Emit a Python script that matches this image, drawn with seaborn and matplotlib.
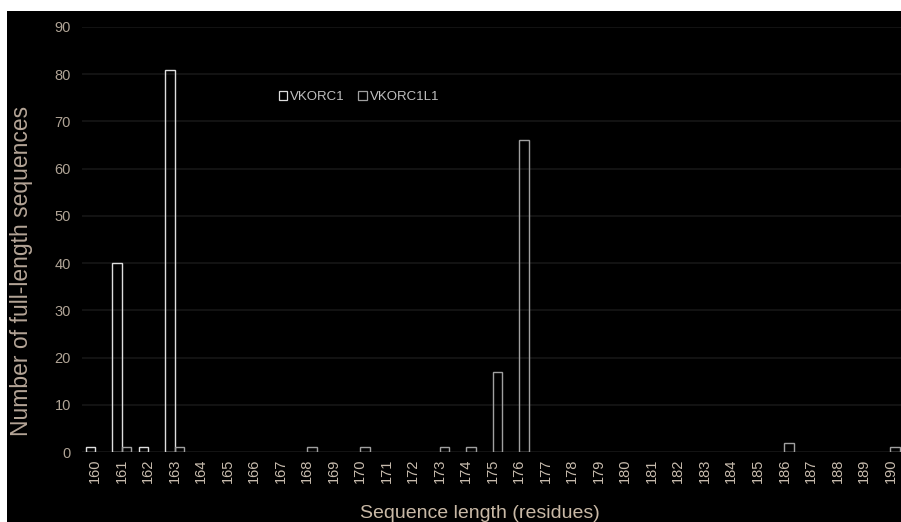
import matplotlib
matplotlib.use("Agg")
import matplotlib.pyplot as plt
from matplotlib.patches import Rectangle, Patch
import seaborn as sns
import pandas as pd

lengths = list(range(160, 191))
vkorc1 = [1, 40, 1, 81, 0, 0, 0, 0, 0, 0, 0, 0, 0, 0, 0, 0, 0, 0, 0, 0,
          0, 0, 0, 0, 0, 0, 0, 0, 0, 0, 0]
vkorc1l1 = [0, 1, 0, 1, 0, 0, 0, 0, 1, 0, 1, 0, 0, 1, 1, 17, 66, 0, 0, 0,
            0, 0, 0, 0, 0, 0, 2, 0, 0, 0, 1]
series = ["VKORC1", "VKORC1L1"]
y_ticks = [0, 10, 20, 30, 40, 50, 60, 70, 80, 90]

df = pd.DataFrame({
    "length": [str(v) for v in lengths] * 2,
    "count": vkorc1 + vkorc1l1,
    "gene": [series[0]] * len(lengths) + [series[1]] * len(lengths),
})

sns.set_theme(style="dark")
plt.rcParams["font.family"] = ["Liberation Sans", "DejaVu Sans"]

W, H = 901, 522
fig = plt.figure(figsize=(W / 100, H / 100), dpi=100, facecolor="white")
fig.patches.append(Rectangle((7 / W, 0), 1, (H - 11) / H, transform=fig.transFigure,
                             facecolor="black", edgecolor="none", zorder=-5))

left, right, top, bottom = 82, 901, 27, 452
ax = fig.add_axes([left / W, (H - bottom) / H, (right - left) / W, (bottom - top) / H])
ax.set_facecolor("black")

colors = {"VKORC1": "#dedede", "VKORC1L1": "#a0a0a0"}
sns.barplot(data=df, x="length", y="count", hue="gene", hue_order=series,
            palette=colors, fill=False, width=0.72, linewidth=1.0, ax=ax,
            errorbar=None, legend=False)

for p in ax.patches:
    if p.get_height() == 0:
        p.set_visible(False)

ax.set_xlim(-0.5, 30.4)
ax.set_ylim(0, 90)
ax.set_yticks(y_ticks)
ax.grid(axis="y", color="#161616", linewidth=1.2)
ax.grid(axis="x", visible=False)
ax.set_axisbelow(True)
for s in ax.spines.values():
    s.set_visible(False)
ax.axhline(0, color="#262626", linewidth=1.0, zorder=0)

tick_color = "#c8bcae"
ax.tick_params(axis="x", labelrotation=90, labelsize=10.5, colors=tick_color, length=0, pad=5)
ax.tick_params(axis="y", labelsize=10.5, colors="#b0a496", length=0, pad=8)

ax.set_xlabel("Sequence length (residues)", fontsize=14, color="#c9b9a6")
ax.xaxis.set_label_coords((480 - left) / (right - left), -0.125)
ax.set_ylabel("Number of full-length sequences", fontsize=16.5, color="#b5a597")
ax.yaxis.set_label_coords((33 - left) / (right - left), (bottom - 271) / (bottom - top))

handles = [Patch(facecolor="none", edgecolor=colors[s], linewidth=0.9, label=s) for s in series]
leg = ax.legend(handles=handles, loc="center left", bbox_to_anchor=(0.240, 0.835), ncol=2,
                frameon=False, fontsize=9.5, handlelength=0.65, handleheight=0.65,
                handletextpad=0.25, columnspacing=1.0, borderpad=0, borderaxespad=0)
for t in leg.get_texts():
    t.set_color("#c0c0c0")

fig.savefig("out.png", dpi=100, facecolor=fig.get_facecolor())
